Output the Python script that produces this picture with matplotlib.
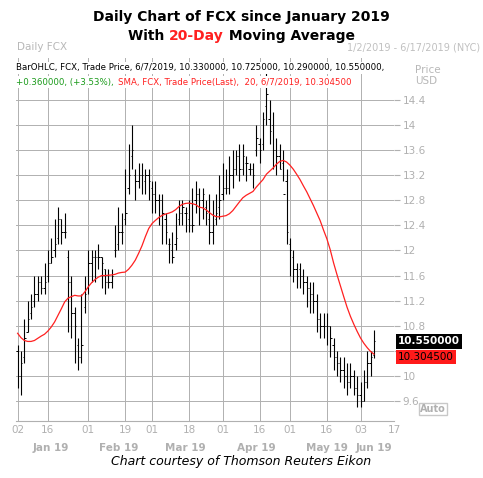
import numpy as np
import matplotlib.pyplot as plt
from matplotlib.transforms import blended_transform_factory

# daily OHLC, Jan 2 - Jun 7 2019 (trading days)
closes = [10.0, 10.2, 10.6, 10.9, 11.1, 11.3, 11.5, 11.4, 11.5, 11.8, 11.9, 12.1, 12.5, 12.3, 12.3,
          11.5, 11.0, 10.8, 10.3, 10.5, 11.3,
          11.8, 11.9, 11.9, 11.9, 11.8, 11.5, 11.5, 11.6, 12.0, 12.3, 12.3, 12.6, 13.2, 13.6, 13.1, 13.2, 13.2, 13.2, 13.1,
          12.9, 12.8, 12.8, 12.6, 12.3, 12.1, 11.9, 12.2, 12.6, 12.7, 12.6, 12.4, 12.4, 12.9, 12.8, 12.9, 12.6, 12.3, 12.4, 12.6, 12.8,
          13.0, 13.0, 13.2, 13.3, 13.5, 13.3, 13.5, 13.4, 13.3, 13.2, 13.8, 13.6, 14.1, 14.5, 13.9, 13.6, 13.5, 13.3, 12.9, 12.3,
          12.0, 11.7, 11.6, 11.6, 11.5, 11.4, 11.3, 11.2, 10.9, 10.8, 10.8, 10.8, 10.6, 10.3, 10.2, 10.1, 10.0, 9.9, 10.0, 9.8, 9.7,
          9.6, 9.9, 10.2, 10.3, 10.55]
highs = [10.5, 10.4, 10.9, 11.2, 11.3, 11.6, 11.6, 11.6, 11.8, 12.0, 12.2, 12.5, 12.7, 12.5, 12.6,
         12.0, 11.6, 11.1, 10.6, 11.3, 11.6,
         12.0, 12.0, 12.0, 12.1, 11.9, 11.7, 11.7, 11.7, 12.4, 12.7, 12.6, 13.3, 13.7, 14.0, 13.3, 13.4, 13.4, 13.3, 13.3,
         13.1, 13.1, 12.9, 12.9, 12.6, 12.2, 12.3, 12.6, 12.8, 12.8, 12.7, 12.8, 13.0, 13.1, 13.0, 13.0, 12.8, 12.9, 12.8, 12.9, 13.2,
         13.4, 13.3, 13.5, 13.6, 13.6, 13.7, 13.7, 13.5, 13.4, 13.4, 14.0, 13.8, 14.2, 14.9, 14.4, 14.2, 13.8, 13.7, 13.6, 13.3,
         12.2, 12.0, 11.8, 11.8, 11.7, 11.6, 11.5, 11.5, 11.3, 11.0, 11.0, 11.0, 10.8, 10.6, 10.4, 10.3, 10.3, 10.2, 10.2, 10.1, 10.0,
         9.9, 10.1, 10.4, 10.4, 10.725]
lows = [9.8, 9.7, 10.2, 10.7, 10.9, 11.1, 11.2, 11.3, 11.3, 11.5, 11.8, 11.9, 12.1, 12.1, 12.2,
        10.7, 10.6, 10.2, 10.1, 10.2, 11.0,
        11.3, 11.5, 11.5, 11.7, 11.4, 11.3, 11.4, 11.4, 11.9, 12.0, 12.1, 12.4, 12.9, 13.3, 12.8, 13.0, 12.9, 12.9, 12.8,
        12.6, 12.6, 12.4, 12.1, 12.1, 11.8, 11.8, 12.0, 12.4, 12.4, 12.3, 12.3, 12.3, 12.6, 12.4, 12.5, 12.4, 12.1, 12.1, 12.4, 12.5,
        12.8, 12.9, 12.9, 13.0, 13.2, 13.1, 13.2, 13.1, 13.2, 13.0, 13.5, 13.4, 13.6, 14.0, 13.7, 13.3, 13.2, 13.3, 13.1, 12.1,
        11.6, 11.5, 11.4, 11.4, 11.3, 11.1, 11.0, 11.0, 10.7, 10.6, 10.6, 10.5, 10.3, 10.1, 10.0, 9.9, 9.8, 9.7, 9.8, 9.7, 9.5,
        9.5, 9.6, 9.8, 10.0, 10.29]
opens = [10.4, 10.0, 10.3, 10.7, 11.0, 11.2, 11.3, 11.5, 11.4, 11.6, 11.8, 12.0, 12.2, 12.5, 12.3,
         11.9, 11.5, 11.0, 10.5, 10.3, 11.1,
         11.4, 11.8, 11.9, 11.9, 11.9, 11.7, 11.5, 11.5, 12.0, 12.1, 12.3, 12.5, 13.0, 13.5, 13.2, 13.1, 13.2, 13.1, 13.2,
         13.0, 12.9, 12.8, 12.8, 12.5, 12.1, 12.0, 12.1, 12.5, 12.6, 12.6, 12.5, 12.4, 12.8, 12.9, 12.8, 12.7, 12.5, 12.3, 12.5, 12.7,
         12.9, 13.0, 13.0, 13.2, 13.3, 13.5, 13.3, 13.4, 13.3, 13.3, 13.6, 13.7, 13.7, 14.3, 14.1, 14.0, 13.6, 13.5, 13.4, 13.1,
         12.1, 11.9, 11.7, 11.7, 11.6, 11.5, 11.4, 11.3, 11.2, 10.9, 10.8, 10.8, 10.8, 10.5, 10.3, 10.2, 10.1, 10.0, 9.9, 10.0, 9.8,
         9.7, 9.6, 9.9, 10.2, 10.33]
# closes of the 19 sessions before Jan 2 (for the 20-day SMA)
prior_closes = [11.6, 11.5, 11.2, 11.1, 11.0, 10.8, 10.7, 10.9, 10.8, 10.6, 10.5, 10.4, 10.2, 10.1, 10.3, 10.5, 10.4, 10.5, 10.5]

day_ticks = [0, 9, 21, 32, 40, 51, 61, 72, 81, 92, 102, 112]
day_labels = ['02', '16', '01', '19', '01', '18', '01', '16', '01', '16', '03', '17']
months = ['Jan 19', 'Feb 19', 'Mar 19', 'Apr 19', 'May 19', 'Jun 19']
month_pos = [10, 30, 50, 71, 92, 106]
price_ticks = [9.6, 10.0, 10.4, 10.8, 11.2, 11.6, 12.0, 12.4, 12.8, 13.2, 13.6, 14.0, 14.4]

allc = np.array(prior_closes + closes)
sma = np.convolve(allc, np.ones(20) / 20, mode='valid')
x = np.arange(len(closes))

fig = plt.figure(figsize=(4.83, 4.78), dpi=100)
ax = fig.add_axes([0.033, 0.119, 0.783, 0.76])
ax.set_xlim(-0.5, 106.5)
ax.set_ylim(9.28, 15.07)

grid = '#b0b0b0'
for t in day_ticks:
    ax.axvline(t, color=grid, lw=0.7, zorder=0)
for p in price_ticks:
    ax.axhline(p, color=grid, lw=0.7, zorder=0)

ax.vlines(x, lows, highs, color='black', lw=0.8, zorder=3)
ax.hlines(opens, x - 0.4, x, color='black', lw=0.7, zorder=3)
ax.hlines(closes, x, x + 0.4, color='black', lw=0.7, zorder=3)
ax.plot(x, sma, color='#ff2020', lw=0.9, zorder=4)

for s in ['top', 'left', 'right']:
    ax.spines[s].set_visible(False)
ax.spines['bottom'].set_color(grid)
ax.set_xticks(day_ticks)
ax.set_xticklabels(day_labels, color='#b0b0b0', fontsize=7.5)
ax.tick_params(axis='x', length=0, pad=3)
ax.yaxis.tick_right()
ax.set_yticks(price_ticks)
ax.set_yticklabels(['' if p == 10.4 else '%g' % p for p in price_ticks], color='#b0b0b0', fontsize=7.5)
ax.tick_params(axis='y', length=4, color=grid, pad=2)

tr = blended_transform_factory(ax.transData, ax.transAxes)
for m, p in zip(months, month_pos):
    ax.text(p, -0.075, m, transform=tr, ha='center', va='center', color='#b0b0b0',
            fontsize=7.5, fontweight='bold')

# header inside chart
ax.text(0.0, 0.985, 'BarOHLC, FCX, Trade Price, 6/7/2019, 10.330000, 10.725000, 10.290000, 10.550000,',
        transform=ax.transAxes, fontsize=6.2, va='top', ha='left',
        bbox=dict(facecolor='white', edgecolor='none', pad=1))
ax.text(0.0, 0.945, '+0.360000, (+3.53%),', transform=ax.transAxes, fontsize=6.2,
        va='top', color='#1a9a1a', bbox=dict(facecolor='white', edgecolor='none', pad=1))
ax.text(0.27, 0.945, 'SMA, FCX, Trade Price(Last),  20, 6/7/2019, 10.304500',
        transform=ax.transAxes, fontsize=6.2, va='top', color='#ff2020',
        bbox=dict(facecolor='white', edgecolor='none', pad=1))

fig.text(0.035, 0.895, 'Daily FCX', color='#b8b8b8', fontsize=7.5)
fig.text(0.995, 0.895, '1/2/2019 - 6/17/2019 (NYC)', color='#c0c0c0', fontsize=7, ha='right')
fig.text(0.86, 0.865, 'Price\nUSD', color='#b8b8b8', fontsize=7.5, va='top')

ax.text(1.01, 10.55, '10.550000', transform=blended_transform_factory(ax.transAxes, ax.transData),
        color='white', fontsize=7.5, fontweight='bold', va='center',
        bbox=dict(facecolor='black', edgecolor='none', pad=1.5))
ax.text(1.01, 10.30, '10.304500', transform=blended_transform_factory(ax.transAxes, ax.transData),
        color='black', fontsize=7.5, va='center',
        bbox=dict(facecolor='#ff1a1a', edgecolor='none', pad=1.5))
fig.text(0.87, 0.138, 'Auto', color='#b0b0b0', fontsize=7, fontweight='bold',
         bbox=dict(facecolor='white', edgecolor='#c8c8c8', pad=1))

# title
fig.text(0.5, 0.965, 'Daily Chart of FCX since January 2019', ha='center', va='center',
         fontsize=10, fontweight='bold')
fig.canvas.draw()
r = fig.canvas.get_renderer()
parts = [('With ', 'black'), ('20-Day', '#ff2020'), (' Moving Average', 'black')]
objs = [fig.text(0, 0.925, s, fontsize=10, fontweight='bold', color=c, va='center') for s, c in parts]
widths = [o.get_window_extent(r).width / fig.bbox.width for o in objs]
xs = 0.5 - sum(widths) / 2
for o, w in zip(objs, widths):
    o.set_x(xs)
    xs += w

fig.text(0.5, 0.035, 'Chart courtesy of Thomson Reuters Eikon', ha='center', va='center',
         fontsize=9, style='italic')

fig.savefig('out.png', dpi=100)
